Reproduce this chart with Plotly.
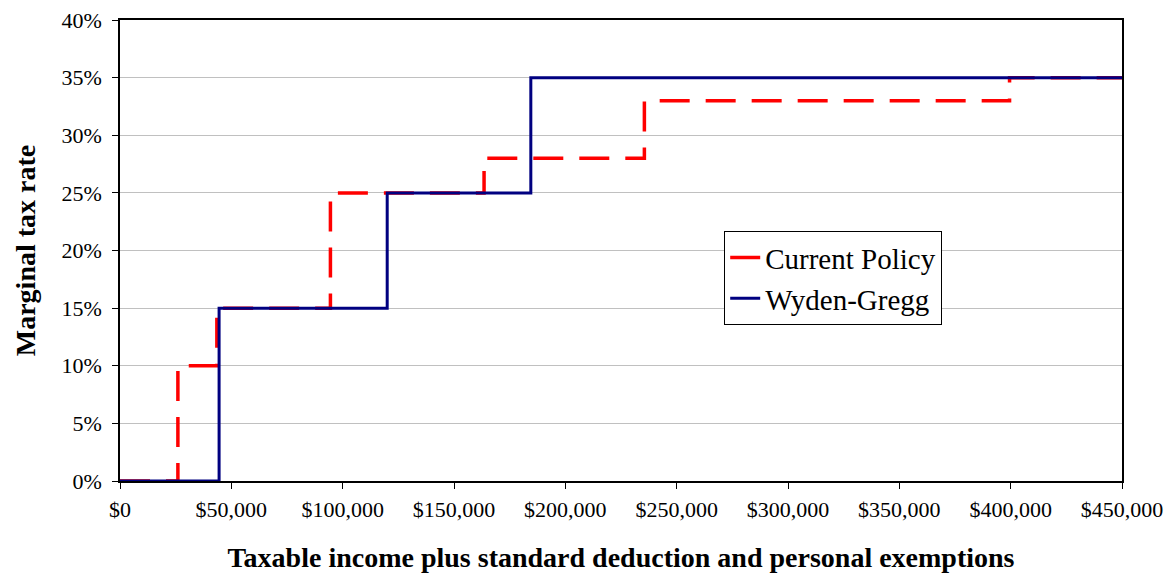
import plotly.graph_objects as go

# Bracket start points (income, $) and marginal rates (%) for each schedule
current_thresholds = [0, 26000, 43500, 94500, 163500, 235500, 399500, 450000]
current_rates = [0, 10, 15, 25, 28, 33, 35, 35]

wyden_thresholds = [0, 44500, 120000, 184500, 450000]
wyden_rates = [0, 15, 25, 35, 35]

x_ticks = [0, 50000, 100000, 150000, 200000, 250000, 300000, 350000, 400000, 450000]
y_ticks = [0, 5, 10, 15, 20, 25, 30, 35, 40]

serif = "Liberation Serif, Times New Roman, serif"

fig = go.Figure()
fig.add_trace(go.Scatter(
    x=current_thresholds, y=[r / 100 for r in current_rates],
    mode="lines", line_shape="hv", name="Current Policy",
    line=dict(color="#FF0000", width=3.5, dash="30px,16px"),
))
fig.add_trace(go.Scatter(
    x=wyden_thresholds, y=[r / 100 for r in wyden_rates],
    mode="lines", line_shape="hv", name="Wyden-Gregg",
    line=dict(color="#000080", width=3),
))

fig.update_layout(
    width=1173, height=574,
    margin=dict(l=120, r=51, t=20, b=93, autoexpand=False),
    paper_bgcolor="white", plot_bgcolor="white",
    font=dict(family=serif, color="black", size=22),
    legend=dict(
        x=0.603, y=0.542, xanchor="left", yanchor="top",
        bordercolor="black", borderwidth=1, bgcolor="white",
        font=dict(size=29, family=serif),
        tracegroupgap=0,
    ),
    xaxis=dict(
        range=[0, 450000], tickvals=x_ticks,
        ticktext=["$0" if v == 0 else f"${v:,}" for v in x_ticks],
        showgrid=False, zeroline=False, automargin=False,
        showline=True, linecolor="black", linewidth=1.5, mirror=True,
        ticks="outside", ticklen=6, tickcolor="black",
        ticklabelstandoff=2,
        title=dict(text="<b>Taxable income plus standard deduction and personal exemptions</b>",
                   font=dict(size=28, family=serif), standoff=26),
    ),
    yaxis=dict(
        range=[0, 0.40], tickvals=[v / 100 for v in y_ticks], tickformat=".0%",
        showgrid=True, gridcolor="#C0C0C0", gridwidth=1.2, zeroline=False, automargin=False,
        showline=True, linecolor="black", linewidth=1.5, mirror=True,
        ticks="outside", ticklen=6, tickcolor="black",
        ticklabelstandoff=6,
        title=dict(text="<b>Marginal tax rate</b>", font=dict(size=28, family=serif), standoff=18),
    ),
)

fig.write_html("out.html")
